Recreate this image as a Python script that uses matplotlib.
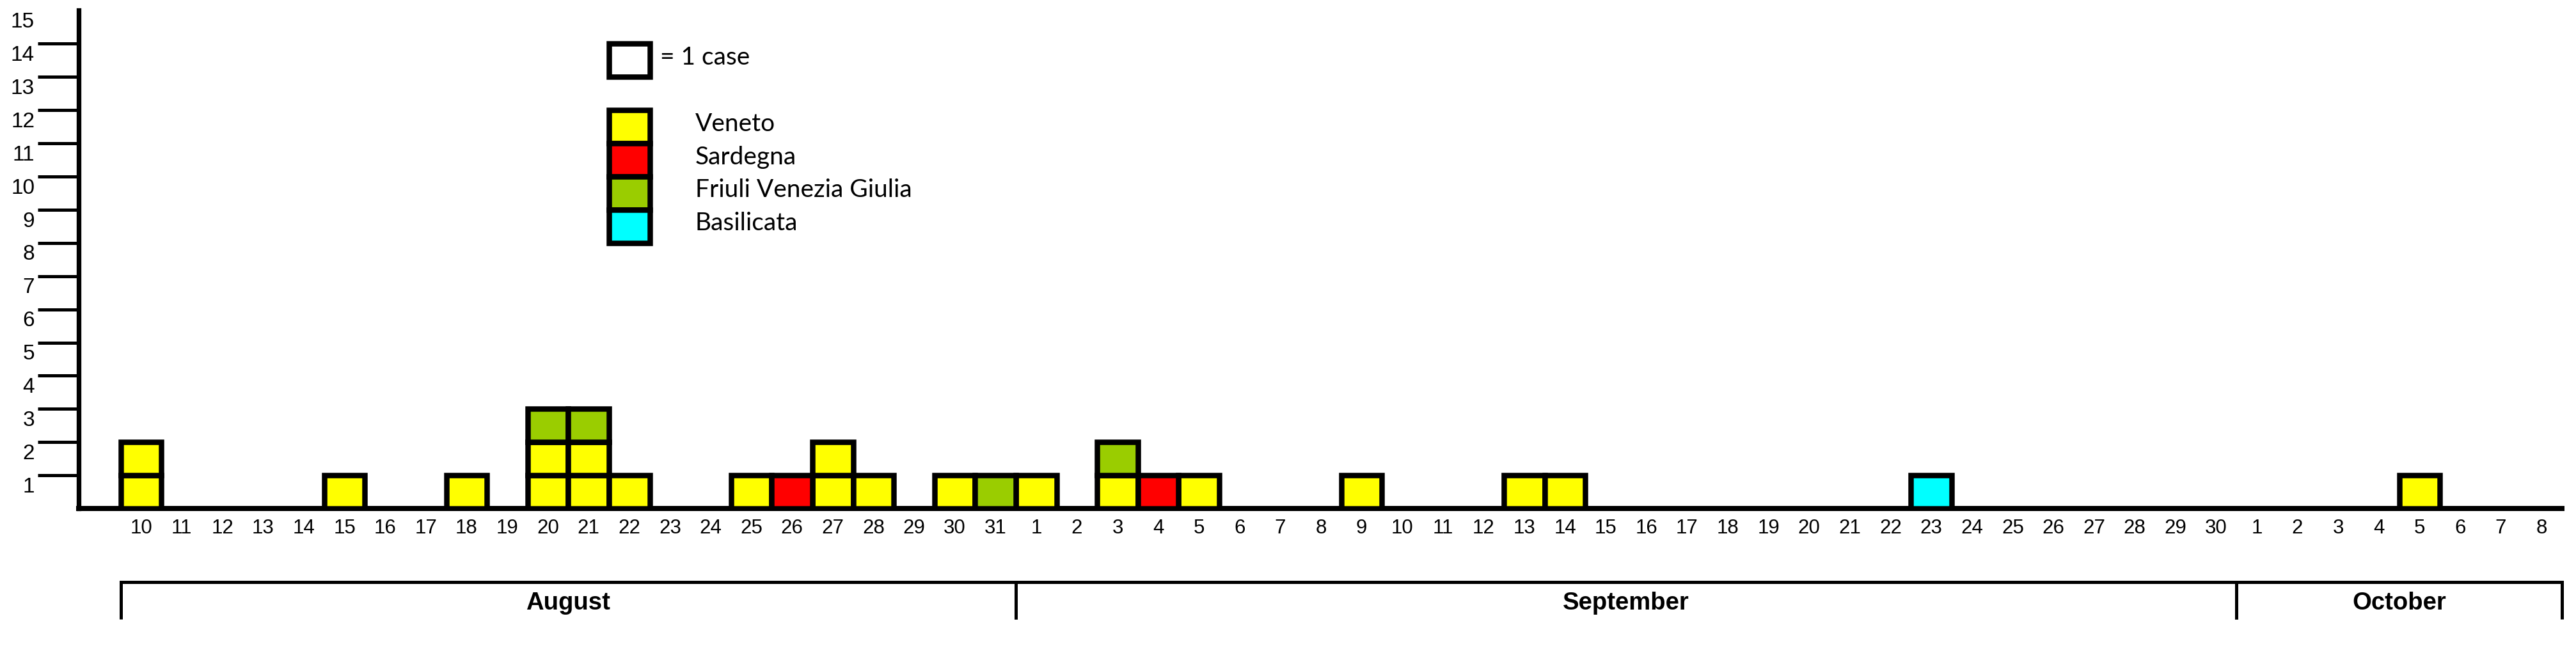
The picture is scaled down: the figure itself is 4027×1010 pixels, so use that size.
import datetime as dt
import matplotlib
matplotlib.use("Agg")
import matplotlib.pyplot as plt
from matplotlib.patches import Rectangle

plt.rcParams["font.family"] = ["Liberation Sans", "DejaVu Sans"]

# ---------------- data ----------------
start_date = dt.date(2018, 8, 10)
end_date = dt.date(2018, 10, 8)

regions = ["Veneto", "Sardegna", "Friuli Venezia Giulia", "Basilicata"]
region_colors = ["#FFFF00", "#FF0000", "#9ACD00", "#00FFFF"]

veneto_dates = ["08-10", "08-15", "08-18", "08-20", "08-21", "08-22", "08-25",
                "08-27", "08-28", "08-30", "09-01", "09-03", "09-05", "09-09",
                "09-13", "09-14", "10-05"]
veneto_counts = [2, 1, 1, 2, 2, 1, 1, 2, 1, 1, 1, 1, 1, 1, 1, 1, 1]

sardegna_dates = ["08-26", "09-04"]
sardegna_counts = [1, 1]

fvg_dates = ["08-20", "08-21", "08-31", "09-03"]
fvg_counts = [1, 1, 1, 1]

basilicata_dates = ["09-23"]
basilicata_counts = [1]

months = ["August", "September", "October"]
month_first = ["08-10", "09-01", "10-01"]
month_last = ["08-31", "09-30", "10-08"]

y_tick_values = list(range(1, 16))

# ---------------- helpers ----------------
W, H, DPI = 4027, 1010, 100


def pt(p):
    return p * 72.0 / DPI


def idx(mmdd):
    m, d = mmdd.split("-")
    return (dt.date(2018, int(m), int(d)) - start_date).days


n_days = (end_date - start_date).days + 1
day_labels = [str((start_date + dt.timedelta(days=i)).day) for i in range(n_days)]

fig = plt.figure(figsize=(W / DPI, H / DPI), dpi=DPI)
x0_px, x1_px, y0_px, y1_px = 123.0, 4005.0, 795.3, 16.0
ax = fig.add_axes([x0_px / W, (H - y0_px) / H, (x1_px - x0_px) / W, (y0_px - y1_px) / H])
ax.set_xlim(-1.533, n_days - 0.5)
ax.set_ylim(0, 15)

for s in ["top", "right"]:
    ax.spines[s].set_visible(False)
ax.spines["left"].set_linewidth(pt(7.3))
ax.spines["bottom"].set_linewidth(pt(8))

# stacked boxes
series = [
    (veneto_dates, veneto_counts),
    (sardegna_dates, sardegna_counts),
    (fvg_dates, fvg_counts),
    (basilicata_dates, basilicata_counts),
]
bottoms = [0] * n_days
box_lw = pt(8.5)
for (dates, counts), color in zip(series, region_colors):
    for d, c in zip(dates, counts):
        i = idx(d)
        for k in range(c):
            ax.bar(i, 1, width=1.0, bottom=bottoms[i] + k, color=color,
                   edgecolor="black", linewidth=box_lw, zorder=3)
        bottoms[i] += c

# x ticks (days)
ax.set_xticks(range(n_days))
ax.set_xticklabels(day_labels)
ax.tick_params(axis="x", length=0, pad=pt(15.5), labelsize=22.5)

# y ticks: lines at integers, labels slightly below
ax.set_yticks(y_tick_values[:-1])
ax.set_yticklabels([])
ax.tick_params(axis="y", which="major", length=pt(64), width=pt(5), direction="out")
ax.set_yticks([v - 0.285 for v in y_tick_values], minor=True)
ax.set_yticklabels([str(v) for v in y_tick_values], minor=True)
ax.tick_params(axis="y", which="minor", length=0, pad=pt(69), labelsize=24)

# month brackets
y_top, y_bot = -2.213, -3.319
for name, a, b in zip(months, month_first, month_last):
    xa, xb = idx(a) - 0.5, idx(b) + 0.5
    ax.plot([xa, xa, xb, xb], [y_bot, y_top, y_top, y_bot], color="black",
            lw=pt(5), clip_on=False, solid_joinstyle="miter", solid_capstyle="butt")
    ax.text((xa + xb) / 2, -3.03, name, ha="center", va="baseline",
            fontsize=27.5, fontweight="bold", clip_on=False)

# legend drawn in-axes
lx = idx("08-22")
ax.add_patch(Rectangle((lx - 0.5, 13), 1, 1, facecolor="white", edgecolor="black",
                       linewidth=box_lw, zorder=3))
ax.text(lx + 0.76, 13.37, "= 1 case", ha="left", va="baseline", fontsize=28,
        family=["Lato", "DejaVu Sans"])
for k, (name, color) in enumerate(zip(regions, region_colors)):
    yb = 11 - k
    ax.add_patch(Rectangle((lx - 0.5, yb), 1, 1, facecolor=color, edgecolor="black",
                           linewidth=box_lw, zorder=3))
    ax.text(lx + 1.62, yb + 0.37, name, ha="left", va="baseline", fontsize=28,
            family=["Lato", "DejaVu Sans"])

fig.savefig("out.png", dpi=DPI, facecolor="white")
